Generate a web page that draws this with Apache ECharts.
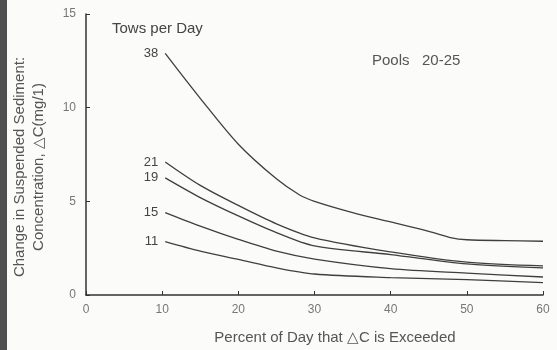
<!DOCTYPE html>
<html>
<head>
<meta charset="utf-8">
<script src="https://cdn.jsdelivr.net/npm/echarts@6/dist/echarts.min.js"></script>
<style>
  html, body { margin: 0; padding: 0; background: #fbfbfa; }
  #chart { width: 557px; height: 350px; }
</style>
</head>
<body>
<div id="chart"></div>
<script>
// Percent of day (x) vs. change in suspended sediment concentration (y), per tow rate
const towsPerDay = ['38', '21', '19', '15', '11'];
const xPercent = [
  [10.4, 15, 20, 25, 28, 30, 35, 40, 45, 48, 50, 55, 60],
  [10.4, 15, 20, 25, 30, 40, 50, 60],
  [10.4, 15, 20, 25, 30, 40, 50, 60],
  [10.4, 15, 20, 25, 30, 40, 50, 60],
  [10.4, 15, 20, 25, 30, 40, 50, 60]
];
const deltaC = [
  [12.9, 10.5, 8.05, 6.2, 5.35, 5.0, 4.4, 3.9, 3.4, 3.05, 2.95, 2.9, 2.87],
  [7.1, 5.85, 4.78, 3.8, 3.05, 2.3, 1.75, 1.55],
  [6.25, 5.2, 4.22, 3.33, 2.62, 2.16, 1.66, 1.45],
  [4.4, 3.68, 2.97, 2.34, 1.92, 1.41, 1.17, 0.96],
  [2.85, 2.34, 1.9, 1.45, 1.12, 0.93, 0.82, 0.66]
];
const xTicks = [0, 10, 20, 30, 40, 50, 60];
const yTicks = [0, 5, 10, 15];

const textColor = '#555';
const lineColor = '#3f3f3f';
const font = 'Liberation Sans, Arial, sans-serif';

const series = towsPerDay.map((name, i) => ({
  name: name,
  type: 'line',
  smooth: 0.3,
  symbol: 'circle',
  symbolSize: 0,
  showSymbol: true,
  lineStyle: { color: lineColor, width: 1.3 },
  itemStyle: { color: lineColor },
  data: xPercent[i].map((x, j) => {
    const item = { value: [x, deltaC[i][j]] };
    if (j === 0) {
      item.label = {
        show: true, formatter: name, position: 'left', distance: 7,
        color: '#444', fontSize: 13, fontFamily: font
      };
    }
    return item;
  }),
  z: 3
}));

const chart = echarts.init(document.getElementById('chart'));
chart.setOption({
  backgroundColor: '#fbfbfa',
  animation: false,
  grid: { left: 86, right: 14, top: 14, bottom: 55 },
  xAxis: {
    type: 'value', min: xTicks[0], max: xTicks[xTicks.length - 1], interval: 10,
    axisLine: { lineStyle: { color: '#333', width: 1.5 } },
    axisTick: { inside: true, length: 4, lineStyle: { color: '#333', width: 1 } },
    axisLabel: { color: '#777', fontSize: 12, fontFamily: font, margin: 9 },
    splitLine: { show: false }
  },
  yAxis: {
    type: 'value', min: yTicks[0], max: yTicks[yTicks.length - 1], interval: 5,
    axisLine: { show: true, lineStyle: { color: '#333', width: 1.5 } },
    axisTick: { show: true, inside: true, length: 4, lineStyle: { color: '#333', width: 1 } },
    axisLabel: { color: '#777', fontSize: 12, fontFamily: font, margin: 10 },
    splitLine: { show: false }
  },
  graphic: [
    { type: 'rect', left: 0, top: 0, shape: { width: 7, height: 350 }, style: { fill: '#505050' }, silent: true },
    {
      type: 'text', left: 112, top: 21,
      style: { text: 'Tows per Day', fill: '#444', fontSize: 15, fontFamily: font }
    },
    {
      type: 'text', left: 372, top: 53,
      style: { text: 'Pools   20-25', fill: '#555', fontSize: 15, fontFamily: font }
    },
    {
      type: 'text', x: 335, y: 338,
      style: {
        text: 'Percent of Day that \u25B3C is Exceeded', fill: textColor, fontSize: 15,
        fontFamily: font, align: 'center', verticalAlign: 'middle'
      }
    },
    {
      type: 'text', x: 20, y: 167, rotation: Math.PI / 2,
      style: {
        text: 'Change in Suspended Sediment:', fill: textColor, fontSize: 15,
        fontFamily: font, align: 'center', verticalAlign: 'middle'
      }
    },
    {
      type: 'text', x: 39, y: 167, rotation: Math.PI / 2,
      style: {
        text: 'Concentration, \u25B3C(mg/1)', fill: textColor, fontSize: 15,
        fontFamily: font, align: 'center', verticalAlign: 'middle'
      }
    }
  ],
  series: series
});
</script>
</body>
</html>
